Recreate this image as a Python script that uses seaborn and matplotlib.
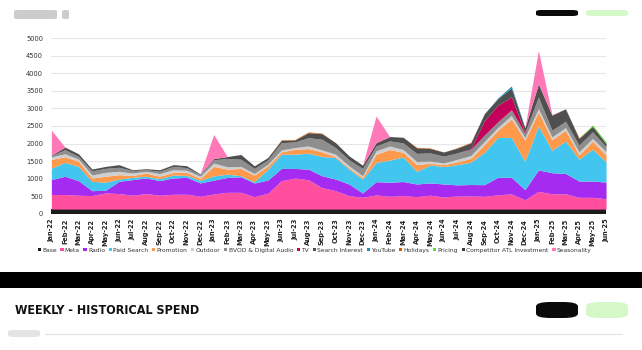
import numpy as np
import pandas as pd
import seaborn as sns
import matplotlib
matplotlib.use("Agg")
import matplotlib.pyplot as plt
from matplotlib.patches import FancyBboxPatch, Rectangle, Patch

months = ["Jan-22","Feb-22","Mar-22","Apr-22","May-22","Jun-22","Jul-22","Aug-22","Sep-22","Oct-22","Nov-22","Dec-22",
          "Jan-23","Feb-23","Mar-23","Apr-23","May-23","Jun-23","Jul-23","Aug-23","Sep-23","Oct-23","Nov-23","Dec-23",
          "Jan-24","Feb-24","Mar-24","Apr-24","May-24","Jun-24","Jul-24","Aug-24","Sep-24","Oct-24","Nov-24","Dec-24",
          "Jan-25","Feb-25","Mar-25","Apr-25","May-25","Jun-25"]

base = [135]*42
meta = [415,415,395,385,460,442,395,442,395,423,423,365,430,478,478,355,450,808,883,836,610,525,384,337,
        403,365,385,355,395,345,375,375,365,405,435,265,505,435,435,335,335,295]
radio = [425,520,415,140,75,348,445,443,415,462,482,380,395,424,443,387,377,349,274,302,340,330,330,122,
         377,400,400,360,350,370,315,325,330,500,470,290,610,600,580,463,463,475]
paid_search = [325,395,405,265,230,65,65,50,55,85,55,75,120,93,29,38,311,405,405,453,546,613,424,396,
               547,630,700,360,510,495,575,635,920,1135,1135,805,1250,640,920,623,905,580]
promotion = [250,160,150,95,170,125,55,90,70,75,85,55,270,143,207,188,94,66,142,132,132,28,37,47,
             235,300,130,190,50,55,80,110,220,205,525,605,400,300,310,118,232,189]
outdoor = [70,85,60,85,110,95,65,50,75,75,60,60,95,67,58,47,47,57,47,75,57,66,57,47,
           95,100,80,90,60,50,70,80,90,80,100,70,95,80,76,94,75,94]
bvod = [40,115,75,115,115,115,70,45,65,95,75,45,95,235,206,142,123,207,160,236,302,189,170,208,
        141,145,190,230,235,190,185,170,180,160,160,120,325,190,180,189,189,141]
tv = [0]*31 + [20,410,470,370,40] + [0]*6
search_interest = [15,75,75,55,55,75,25,30,45,50,55,20,35,55,134,75,66,66,57,141,160,141,113,94,
                   94,125,160,160,125,120,135,170,200,190,250,120,380,430,354,188,160,91]
youtube = [0]*33 + [20,60] + [0]*7
holidays = [0]*17 + [15,15,20,15] + [0]*6 + [15,15,0,15,15] + [0]*7 + [20,0,0]
pricing = [0]*40 + [35,45]
competitor_atl = [0]*42
seasonality = [710] + [0]*11 + [685] + [0]*11 + [755] + [0]*11 + [950,20] + [0]*4

series_names = ["Base","Meta","Radio","Paid Search","Promotion","Outdoor","BVOD & Digital Audio","TV",
                "Search Interest","YouTube","Holidays","Pricing","Competitor ATL Investment","Seasonality"]
series_vals = [base, meta, radio, paid_search, promotion, outdoor, bvod, tv, search_interest,
               youtube, holidays, pricing, competitor_atl, seasonality]
colors = ["#1b1b1b","#ff4f9e","#a52bf0","#42c5ee","#ff9a4c","#cfcfcf","#8e8e8e","#c4005a",
          "#4f4f4f","#1f8fbf","#d25a00","#58e02a","#3a3a3a","#ff78b8"]

df = pd.DataFrame(dict(zip(series_names, series_vals)), index=months)

sns.set_theme(style="white")
plt.rcParams['font.family'] = ['DejaVu Sans']

fig = plt.figure(figsize=(6.42, 3.5), dpi=100)
fig.patch.set_facecolor("white")
ax = fig.add_axes([0.080, 0.389, 0.864, 0.502])

x = np.arange(len(months))
ax.stackplot(x, [df[c].values for c in series_names], colors=colors, linewidth=0, zorder=2)

ax.set_xlim(0, len(months) - 1)
ax.set_ylim(0, 5000)
ax.set_yticks(np.arange(0, 5001, 500))
ax.set_xticks(x)
ax.set_xticklabels(months, rotation=90, fontsize=4.8, color="#222222", fontweight="bold")
ax.tick_params(axis="y", labelsize=4.8, labelcolor="#333333", length=0, pad=6)
ax.tick_params(axis="x", length=2, width=0.4, color="#999999", pad=1.5)
ax.yaxis.grid(True, color="#e6e6e6", linewidth=0.8, zorder=0)
ax.xaxis.grid(False)
for s in ax.spines.values():
    s.set_visible(False)
ax.set_facecolor("white")

handles = [Patch(facecolor=c, edgecolor="none") for c in colors]
fig.legend(handles, series_names, loc="center", bbox_to_anchor=(0.49, 0.285), ncol=len(series_names),
           frameon=False, fontsize=4.35, handlelength=0.55, handleheight=0.55, handletextpad=0.2,
           columnspacing=0.6, labelcolor="#333333", borderpad=0.1)

W, H = 642.0, 350.0
def pill(x0, y0, x1, y1, color, r=None):
    w = (x1 - x0) / W; h = (y1 - y0) / H
    rad = (r if r is not None else (y1 - y0) / 2) / H
    p = FancyBboxPatch((x0 / W, 1 - y1 / H), w, h, boxstyle=f"round,pad=0,rounding_size={rad}",
                       transform=fig.transFigure, facecolor=color, edgecolor="none", mutation_aspect=H/W*1.0)
    fig.patches.append(p)

# top bar decorations
pill(14, 10, 57, 19, "#cccccc", r=2)
pill(62, 10, 69, 19, "#cccccc", r=2)
pill(536, 10, 578, 16, "#0a0a0a")
pill(586, 10, 628, 16, "#d4f8c8")

# black separator band
fig.patches.append(Rectangle((0, 1 - 288 / H), 1, 16 / H, transform=fig.transFigure,
                             facecolor="black", edgecolor="none"))

# lower panel header
fig.text(15 / W, 1 - 311 / H, "WEEKLY - HISTORICAL SPEND", fontsize=9, fontweight="bold",
         va="center", ha="left", fontstretch="condensed", color="#111111")
pill(536, 302, 578, 318, "#0a0a0a")
pill(586, 302, 628, 318, "#d4f8c8")
pill(8, 330, 40, 337, "#e4e4e4")
fig.lines.append(plt.Line2D([45 / W, 622 / W], [1 - 333.5 / H, 1 - 333.5 / H], transform=fig.transFigure,
                            color="#e2e2e2", linewidth=0.8))

fig.savefig("out.png", dpi=100, facecolor="white")
